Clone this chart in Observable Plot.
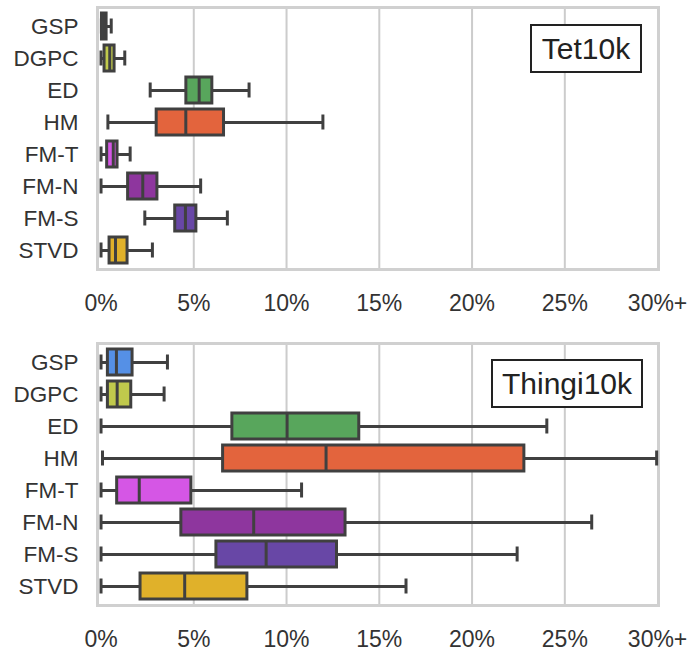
<!DOCTYPE html>
<html>
<head>
<meta charset="utf-8">
<script src="https://cdn.jsdelivr.net/npm/d3@7"></script>
<script src="https://cdn.jsdelivr.net/npm/@observablehq/plot@0.6"></script>
<style>
  html, body { margin: 0; padding: 0; background: #fff; }
  #wrap { position: relative; width: 687px; font-family: "Liberation Sans", Arial, sans-serif; }
  .panel { position: relative; }
  .tag { position: absolute; box-sizing: border-box; border: 2.5px solid #222; background: #fff;
         font-size: 30px; color: #222; display: flex; align-items: center; justify-content: center; }
  svg { display: block; }
</style>
</head>
<body>
<div id="wrap"></div>
<script>
// Categories and colours
const methods = ["GSP", "DGPC", "ED", "HM", "FM-T", "FM-N", "FM-S", "STVD"];
const colors = ["#5590e6", "#c0c94c", "#58a65c", "#e3643d", "#d556e5", "#8e369e", "#6847a6", "#e0b12a"];

// Tet10k (percent)
const tetMin = [0.02, 0.0, 2.65, 0.37, 0.0, 0.0, 2.36, 0.0];
const tetQ1  = [0.05, 0.19, 4.6, 3.0, 0.33, 1.46, 4.0, 0.46];
const tetMed = [0.15, 0.47, 5.29, 4.57, 0.66, 2.25, 4.55, 0.78];
const tetQ3  = [0.3, 0.73, 6.0, 6.63, 0.89, 3.04, 5.14, 1.43];
const tetMax = [0.55, 1.28, 7.98, 11.96, 1.57, 5.37, 6.81, 2.77];

// Thingi10k (percent)
const thiMin = [0.0, 0.0, 0.0, 0.08, 0.0, 0.0, 0.0, 0.0];
const thiQ1  = [0.37, 0.37, 7.08, 6.58, 0.87, 4.33, 6.22, 2.13];
const thiMed = [0.83, 0.87, 10.03, 12.13, 2.06, 8.23, 8.9, 4.51];
const thiQ3  = [1.70, 1.63, 13.92, 22.82, 4.87, 13.18, 12.72, 7.89];
const thiMax = [3.58, 3.40, 24.03, 29.95, 10.81, 26.45, 22.43, 16.44];

// Axis ticks
const xTicks = [0, 5, 10, 15, 20, 25, 30];
const xTickLabels = ["0%", "5%", "10%", "15%", "20%", "25%", "30%+"];

const dark = "#404040";

function rows(mn, q1, md, q3, mx) {
  return methods.map((m, i) => ({m, min: mn[i], q1: q1[i], med: md[i], q3: q3[i], max: mx[i], c: colors[i]}));
}

function panel(data, title, cfg) {
  const plot = Plot.plot({
    width: 687,
    height: cfg.height,
    marginLeft: 97,
    marginRight: 29,
    marginTop: cfg.marginTop,
    marginBottom: cfg.marginBottom,
    style: {fontFamily: "'Liberation Sans', Arial, sans-serif", fontSize: "23px", color: "#333", background: "#fff"},
    x: {domain: [-0.19, 30.05]},
    y: {domain: methods, paddingInner: 0.18, paddingOuter: 0.09},
    marks: [
      Plot.gridX(xTicks.slice(1, -1), {stroke: "#cccccc", strokeOpacity: 1, strokeWidth: 2}),
      Plot.frame({stroke: "#d0d0d0", strokeWidth: 3}),
      Plot.ruleY(data, {y: "m", x1: "min", x2: "max", stroke: dark, strokeWidth: 3}),
      Plot.tickX(data, {y: "m", x: "min", stroke: dark, strokeWidth: 3, insetTop: 5.5, insetBottom: 5.5}),
      Plot.tickX(data, {y: "m", x: "max", stroke: dark, strokeWidth: 3, insetTop: 5.5, insetBottom: 5.5}),
      Plot.barX(data, {y: "m", x1: "q1", x2: "q3", fill: "c", stroke: dark, strokeWidth: 3}),
      Plot.tickX(data, {y: "m", x: "med", stroke: dark, strokeWidth: 3}),
      Plot.axisX(xTicks, {tickSize: 0, tickPadding: 25, fontSize: 23, fill: "#333",
        tickFormat: d => xTickLabels[xTicks.indexOf(d)], label: null}),
      Plot.axisY({tickSize: 0, tickPadding: 19, fontSize: 22.5, fill: "#333", label: null})
    ]
  });
  const div = document.createElement("div");
  div.className = "panel";
  div.appendChild(plot);
  const tag = document.createElement("div");
  tag.className = "tag";
  tag.textContent = title;
  Object.assign(tag.style, cfg.tag);
  div.appendChild(tag);
  return div;
}

const wrap = document.getElementById("wrap");
wrap.appendChild(panel(rows(tetMin, tetQ1, tetMed, tetQ3, tetMax), "Tet10k",
  {height: 325, marginTop: 7, marginBottom: 56,
   tag: {left: "530px", top: "24px", width: "112px", height: "49px"}}));
wrap.appendChild(panel(rows(thiMin, thiQ1, thiMed, thiQ3, thiMax), "Thingi10k",
  {height: 328, marginTop: 18, marginBottom: 48,
   tag: {left: "491px", top: "34px", width: "152px", height: "49px"}}));
</script>
</body>
</html>
